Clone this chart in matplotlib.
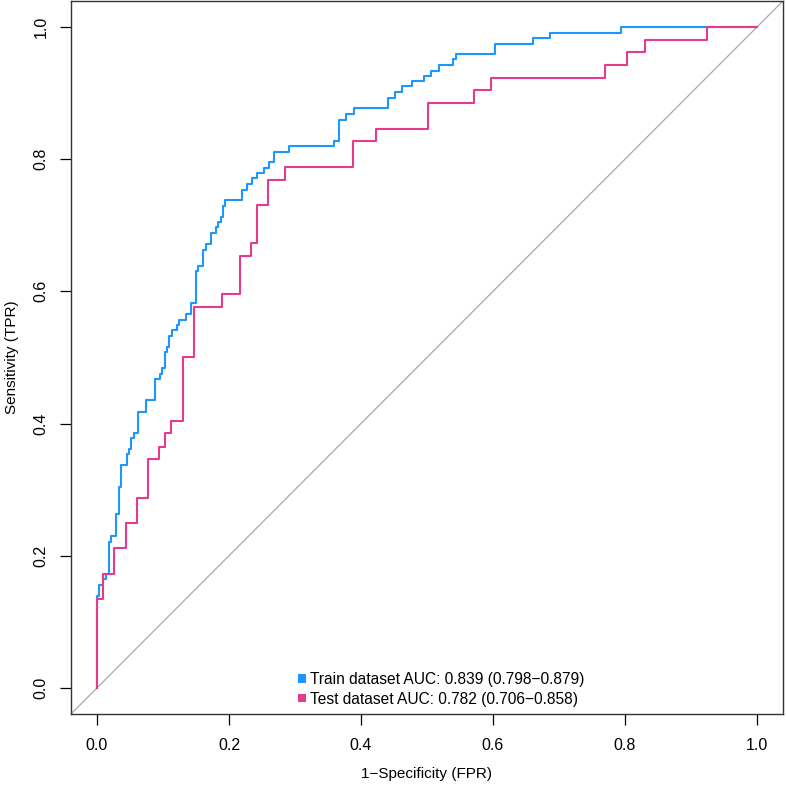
import matplotlib
matplotlib.use("Agg")
import matplotlib.pyplot as plt
from matplotlib.patches import Patch

plt.rcParams['font.family'] = ['Liberation Sans', 'DejaVu Sans']

# ROC punkty (fpr, tpr) - kolejno: pion w fpr[i-1] do tpr[i], potem poziom do fpr[i]
train_fpr = [0, 0.0035, 0.0096, 0.0132, 0.0182, 0.0217, 0.0293, 0.0329, 0.0364, 0.0448,
             0.0478, 0.0516, 0.0554, 0.0622, 0.0736, 0.0880, 0.0948, 0.0991, 0.1024, 0.1058,
             0.1097, 0.1134, 0.1209, 0.1247, 0.1355, 0.1429, 0.1499, 0.1537, 0.1612, 0.1646,
             0.1725, 0.1801, 0.1836, 0.1874, 0.1909, 0.1942, 0.2200, 0.2279, 0.2352, 0.2428,
             0.2530, 0.2605, 0.2681, 0.2903, 0.3596, 0.3668, 0.3778, 0.3889, 0.4405, 0.4514,
             0.4625, 0.4772, 0.4954, 0.5068, 0.5179, 0.5395, 0.5432, 0.6024, 0.6608, 0.6869,
             0.7932, 1.0]
train_tpr = [0, 0.139, 0.156, 0.165, 0.173, 0.221, 0.230, 0.263, 0.304, 0.337,
             0.354, 0.362, 0.378, 0.386, 0.418, 0.435, 0.467, 0.475, 0.484, 0.508,
             0.516, 0.532, 0.541, 0.549, 0.557, 0.566, 0.582, 0.631, 0.639, 0.663,
             0.671, 0.688, 0.697, 0.705, 0.713, 0.729, 0.738, 0.754, 0.762, 0.771,
             0.779, 0.787, 0.795, 0.811, 0.820, 0.828, 0.860, 0.869, 0.877, 0.893,
             0.901, 0.910, 0.918, 0.926, 0.934, 0.942, 0.951, 0.959, 0.975, 0.983,
             0.991, 1.0]

test_fpr = [0, 0.0087, 0.0258, 0.0435, 0.0602, 0.0774, 0.0945, 0.1036, 0.1127, 0.130,
            0.147, 0.190, 0.216, 0.233, 0.242, 0.259, 0.285, 0.388, 0.423, 0.501,
            0.571, 0.597, 0.769, 0.803, 0.830, 0.924, 1.0]
test_tpr = [0, 0.135, 0.173, 0.212, 0.250, 0.288, 0.346, 0.365, 0.385, 0.404,
            0.500, 0.577, 0.596, 0.654, 0.673, 0.731, 0.769, 0.788, 0.827, 0.846,
            0.885, 0.904, 0.923, 0.942, 0.962, 0.981, 1.0]

labels = ['Train dataset AUC: 0.839 (0.798\u22120.879)',
          'Test dataset AUC: 0.782 (0.706\u22120.858)']
colors = ['#1E96FF', '#E63A8C']
ticks = [0.0, 0.2, 0.4, 0.6, 0.8, 1.0]

fig = plt.figure(figsize=(7.86, 7.89), dpi=100)
ax = fig.add_axes([0.0898, 0.0946, 0.9069, 0.9047])

# przekatna
ax.axline((0, 0), (1, 1), color='#A8A8A8', lw=0.9, zorder=1)

ax.plot(train_fpr, train_tpr, drawstyle='steps-pre', color=colors[0], lw=1.5, zorder=2)
ax.plot(test_fpr, test_tpr, drawstyle='steps-pre', color=colors[1], lw=1.5, zorder=3)

ax.set_xlim(-0.04, 1.04)
ax.set_ylim(-0.04, 1.04)
ax.set_xticks(ticks)
ax.set_yticks(ticks)
ax.set_xticklabels(['%.1f' % t for t in ticks])
ax.set_yticklabels(['%.1f' % t for t in ticks], rotation=90, va='center')
ax.tick_params(length=8, width=0.9, labelsize=11.5, pad=9)
ax.tick_params(axis='y', pad=8)
for s in ax.spines.values():
    s.set_linewidth(1.0)
    s.set_color('#333333')

ax.set_xlabel('1\u2212Specificity (FPR)', fontsize=11, labelpad=10)
ax.set_ylabel('Sensitivity (TPR)', fontsize=11, labelpad=10)

# legenda
handles = [Patch(facecolor=c, edgecolor='none') for c in colors]
ax.legend(handles, labels, loc='lower center', bbox_to_anchor=(0.52, 0.0),
          frameon=False, fontsize=11.2, handlelength=0.5, handleheight=0.5,
          handletextpad=0.3, labelspacing=0.28, borderaxespad=0.1)

fig.savefig('out.png', dpi=100)
